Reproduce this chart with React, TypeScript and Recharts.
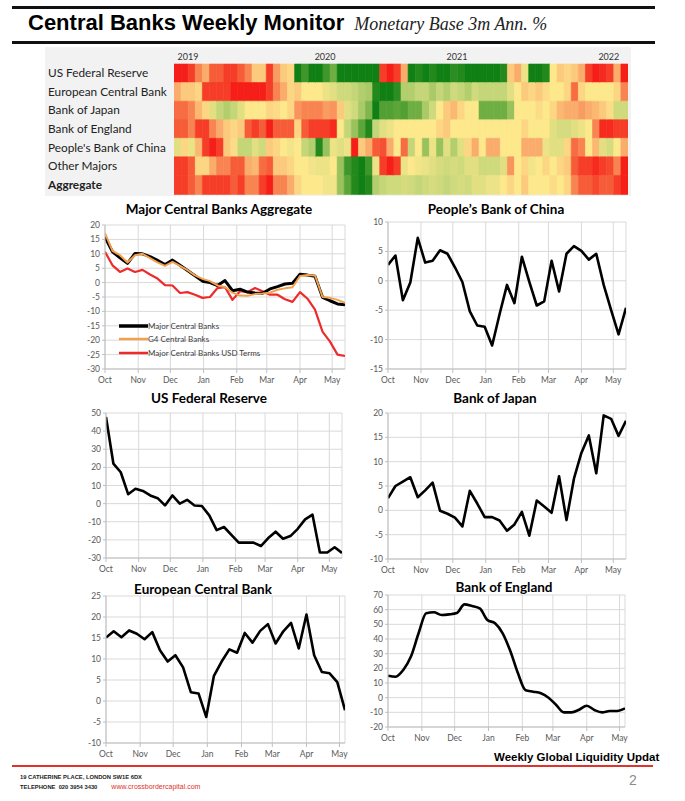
import React from 'react';
import { LineChart, Line, XAxis, YAxis, CartesianGrid, BarChart, Bar, Cell, Legend } from 'recharts';

// ---------- Heatmap data (score -3 = deep red ... +3 = deep green) ----------
const HEAT_ROWS = ['US Federal Reserve', 'European Central Bank', 'Bank of Japan', 'Bank of England', "People's Bank of China", 'Other Majors', 'Aggregate'];
const YEAR_LABELS = ['2019', '2020', '2021', '2022'];
const YEAR_POS = [1.97, 21.3, 39.9, 61.3];

const fedHeat = [-3,-3,-2.5,-1.5,-1,-2,-2,-2.5,-2.5,-2,-1.5,-0.5,-0.5,-2.5,-1.2,-0.5,-0.3,3,2.5,3,3,2.5,
  2,3,3,3,3,3,3,-2.5,-3,-2.5,-1,3,2.8,3,2.8,3,3,2.7,2.8,3,3,
  3,3,3,2.8,-0.5,-1,0.3,3,3,2.8,0,-0.5,-0.3,-0.5,-1,-2.5,-3,-2.8,-2.5,-1,-3];
const ecbHeat = [-1,-0.5,-0.5,-0.3,-2.5,-2.5,-2.5,-2.5,-3,-3,-3,-3,-3,-2.5,-1.5,-1,-0.3,-0.5,0,0,0,0.3,
  0.5,0.8,0.8,1,1.2,1.3,2.8,3,3,2.7,1.2,1.2,1,1,1.3,1,1.2,0.8,1,1.2,0.8,
  1,1,1,1,0.5,0,-0.5,-0.3,-0.5,-0.2,0,0,-0.3,-1.8,-0.3,0,0,0,0,-0.3,-1.5];
const bojHeat = [-1.8,-1.8,-1.5,-0.8,-0.3,0.5,1,1.2,1,0.5,0,0,0,-0.3,-0.2,0,-0.3,-1.3,-1.5,-1.5,-1.5,-1.2,
  -1.3,-0.5,0.5,0.8,1.3,1.8,3,2.3,2.3,2.2,2.3,2,2,1.3,0.8,0,-0.5,-0.8,-0.3,0,0,
  2,2,2,2,1.5,0,0,0,-0.2,0,-0.3,-0.8,-1,-1,-1.2,-1,-0.8,-0.5,-0.2,0.8,0.8];
const boeHeat = [-2,-2,-1.5,-2.5,-2.5,-1.5,-1,-0.5,-0.3,-0.5,-2,-2.5,-2,-3,-2,-2,-2,-0.3,-2,-2.5,-2.5,-2.5,
  -2.8,0,1,1.5,2.2,2.8,1,0.5,0.3,0,0,0,0,0,0,-0.3,-0.5,0,0,0,0,
  0,0,0,0,0,0,-0.3,0,0,0,0.5,0.7,0.7,0.5,0.3,0,-1.5,-2.8,-2.8,-2.5,-2.5];
const pbocHeat = [0.5,-0.3,0.3,-0.8,-2.5,-3,-2.5,-0.5,-0.2,1,1,0.5,0.8,-0.5,-0.3,0,0.2,0,1,1.2,2.8,1.5,
  0.3,0.5,0.3,-3,-0.5,-1,-2,-2.2,-1,0,-1.8,1,0,1.5,0.3,1.5,0.5,1.2,0.5,-0.3,-1,
  0,-1,-1,0,0,0,-1,-1,-1,0.3,0.5,0.5,-0.3,-1.8,-1.5,0,-0.8,0.5,0.7,0,-1];
const otherHeat = [-2.5,-2.5,-2,-0.3,-0.3,-1,-1.5,-1.5,-2,-2,-1,-0.8,-1.8,-2,-0.5,-0.5,-0.3,0,0,0.2,0.3,0.3,
  0,1.5,2.5,2.8,3,2.5,0.3,-2.5,-3,-2.5,0.3,0,0.2,0.3,0.5,0.7,0.8,0.7,0.8,0.5,0.5,
  0.8,0.8,0.8,0.5,-1.3,0,-0.3,0.2,0,-0.3,0,-0.3,-0.5,-2,-2.5,-2.5,-2.8,-2.5,-2.3,-1.5,-3];
const aggHeat = [-2.5,-2.5,-2,-1.5,-2.5,-2.5,-2.5,-2.5,-2,-2.5,-1.5,-1.5,-2.5,-3,-1.5,-1.5,-1,-0.3,0,0,0,0.2,
  0.2,1.5,2.2,2.8,3,2.8,1.2,1,0.8,0.8,0.7,0.8,1,0.8,0.7,0.8,1,0.8,0.7,0.8,0.5,
  0.5,0.3,0.3,0,-0.3,0,-0.5,0,0,0,-0.2,0,-0.3,-1.5,-2,-2,-2.3,-2,-2,-2.5,-3];

// ---------- Line chart data (weekly, Oct -> May) ----------
const MONTH_TICKS = [0, 31, 61, 92, 123, 151, 182, 212];
const MONTH_LABELS = ['Oct', 'Nov', 'Dec', 'Jan', 'Feb', 'Mar', 'Apr', 'May'];

const aggMajor = [15.8,10.7,8.6,6.7,10.1,10,9,7.7,6.3,7.8,6,4.2,2.4,0.5,0,-1,0.7,-2.8,-2.3,-3.3,-3.6,-3.7,-2.2,-1.4,-0.5,-0.2,2.9,2.6,2.2,-5.1,-6.3,-7.4,-7.7];
const aggG4 = [17.2,11,9.5,7,9.5,10,8.5,7,5.8,7.2,5.8,4.3,2.5,1.3,0.5,-1,-1.5,-3.5,-4.5,-4.6,-4,-3.8,-3.5,-2.5,-2,-1.6,2.3,2.6,2.5,-5,-5.3,-6,-7];
const aggUsd = [10.7,6,3.7,4.9,3.7,4.4,2.8,1.4,-0.9,-1,-3.6,-3.3,-4.2,-5.3,-5,-1.9,-1.6,-6,-3,-3.3,-1.9,-3,-4.2,-4.2,-5.8,-6.7,-3.3,-5.6,-9.4,-17,-20.5,-25,-25.5];
const pboc = [2.7,4.3,-3.3,-0.3,7.3,3.1,3.4,5.2,4.6,2.3,-0.2,-5.2,-7.6,-7.8,-11,-5.7,-0.7,-3.8,4.1,-0.2,-4.2,-3.5,3.4,-1.8,4.6,5.9,5.1,3.6,4.6,-0.7,-5,-9.1,-4.6];
const fed = [47.8,22.1,17.3,5.2,8.2,7,4.5,3,-1,4.5,0,2.1,-1,-1.3,-6.5,-14.6,-12.9,-17.2,-21.5,-21.5,-21.5,-23.4,-19,-15.5,-19.4,-17.9,-13.9,-8.7,-6.1,-27,-27,-24.1,-27.2];
const boj = [2.5,5,5.9,6.8,2.7,4.1,5.7,-0.1,-0.7,-1.5,-3.3,4,1.4,-1.4,-1.4,-2.1,-4.2,-2.9,-0.3,-5.2,2,0.8,-0.5,7,-2,6.5,11.8,15.4,7.6,19.5,18.8,15.3,18.4];
const ecb = [15.1,16.6,15.2,16.8,16,14.7,16.4,12.1,9.4,10.9,8,2.1,1.8,-3.8,6,9.4,12.3,11.5,16.2,13.9,16.7,18.3,13.7,16.6,18.6,12.5,20.6,10.9,6.9,6.6,4.5,-2.2];
const boe = [15,14.3,18.9,28,43.9,57.5,58.2,56.4,56.8,57.7,63.6,62.5,60.9,53,50.7,43.9,31.8,16.6,5,4.1,3,0,-5,-10,-10,-8.2,-5.5,-8.4,-10,-9.1,-9.1,-7.3];

// ---------- helpers ----------
const heatRowsValues = [fedHeat, ecbHeat, bojHeat, boeHeat, pbocHeat, otherHeat, aggHeat];
const NCOL = fedHeat.length;
const heatData = HEAT_ROWS.map((name) => {
  const o: any = { name };
  for (let k = 0; k < NCOL; k++) o['c' + k] = 1;
  return o;
});

const STOPS: [number, number[]][] = [
  [-3, [246, 30, 24]],
  [-2, [246, 92, 56]],
  [-1, [250, 172, 108]],
  [0, [253, 232, 140]],
  [1, [196, 214, 120]],
  [2, [110, 174, 66]],
  [3, [16, 128, 20]],
];
function heatColor(v: number) {
  const x = Math.max(-3, Math.min(3, v));
  for (let i = 0; i < STOPS.length - 1; i++) {
    const [a, ca] = STOPS[i];
    const [b, cb] = STOPS[i + 1];
    if (x >= a && x <= b) {
      const t = (x - a) / (b - a);
      const c = ca.map((cv, j) => Math.round(cv + (cb[j] - cv) * t));
      return `rgb(${c[0]},${c[1]},${c[2]})`;
    }
  }
  return 'rgb(253,232,140)';
}

const weekly = (arr: number[], key = 'v') => arr.map((v, i) => ({ d: i * 7, [key]: v }));
const aggData = aggMajor.map((v, i) => ({ d: i * 7, major: v, g4: aggG4[i], usd: aggUsd[i] }));

const FONT = 'Lato, "Open Sans", sans-serif';
const tickStyle = { fontSize: 8.5, fill: '#595959', fontFamily: FONT };

type Series = { key: string; color: string; width: number; name?: string };

function MiniChart(props: {
  x0: number; y0: number; x1: number; y1: number; dMax: number; data: any[]; series: Series[];
  yDomain: [number, number]; yTicks: number[]; title: string; titleX: number; titleY: number;
  curve?: 'linear' | 'monotone'; legend?: React.ReactNode;
}) {
  const { x0, y0, x1, y1, dMax, data, series, yDomain, yTicks, title, titleX, titleY } = props;
  const W = (x1 - x0) + 40 + 8;
  const H = (y1 - y0) + 8 + 22;
  return (
    <>
      <div style={{ position: 'absolute', left: titleX, top: titleY, transform: 'translate(-50%,-50%)', whiteSpace: 'nowrap', fontFamily: FONT, fontWeight: 700, fontSize: 13.5, color: '#000' }}>{title}</div>
      <div style={{ position: 'absolute', left: x0 - 40, top: y0 - 8 }}>
        <LineChart width={W} height={H} data={data} margin={{ top: 8, right: 8, left: 4, bottom: 2 }}>
          <CartesianGrid stroke="#d9d9d9" strokeWidth={1} />
          <XAxis type="number" dataKey="d" domain={[0, dMax]} ticks={MONTH_TICKS} interval={0} allowDataOverflow
            tickFormatter={(v: number) => MONTH_LABELS[MONTH_TICKS.indexOf(v)]}
            height={20} tick={tickStyle} tickSize={4} tickMargin={4} stroke="#bfbfbf" />
          <YAxis type="number" domain={yDomain} ticks={yTicks} interval={0} allowDataOverflow width={36}
            tick={tickStyle} tickSize={3} tickMargin={2} stroke="#bfbfbf" />
          {series.map((s) => (
            <Line key={s.key} dataKey={s.key} name={s.name} type={props.curve || 'linear'} stroke={s.color} strokeWidth={s.width}
              dot={false} activeDot={false} isAnimationActive={false} strokeLinejoin="round" />
          ))}
          {props.legend}
        </LineChart>
      </div>
    </>
  );
}

const aggSeries: Series[] = [
  { key: 'usd', color: '#ee2b2b', width: 2.2, name: 'Major Central Banks USD Terms' },
  { key: 'major', color: '#000000', width: 3, name: 'Major Central Banks' },
  { key: 'g4', color: '#f2a04e', width: 2, name: 'G4 Central Banks' },
];
const legendOrder = [aggSeries[1], aggSeries[2], aggSeries[0]];

const AggLegend = () => (
  <div style={{ fontFamily: FONT, fontSize: 8, color: '#404040' }}>
    {legendOrder.map((s) => (
      <div key={s.key} style={{ display: 'flex', alignItems: 'center', height: 13.5 }}>
        <svg width={29} height={6} style={{ display: 'block' }}>
          <line x1={0} y1={3} x2={29} y2={3} stroke={s.color} strokeWidth={s.key === 'major' ? 3.5 : 2.5} />
        </svg>
        <span style={{ marginLeft: 0, whiteSpace: 'nowrap' }}>{s.name}</span>
      </div>
    ))}
  </div>
);

const YearTick = (p: any) => (
  <text x={p.x} y={13} textAnchor="middle" fontSize={9} fontFamily={FONT} fill="#333">{YEAR_LABELS[YEAR_POS.indexOf(p.payload.value)]}</text>
);
const RowTick = (p: any) => (
  <text x={3} y={p.y} dy={4} textAnchor="start" fontSize={11.8} fontFamily={FONT} fill="#222"
    fontWeight={p.payload.value === 'Aggregate' ? 700 : 400}>{p.payload.value}</text>
);

export default function App() {
  return (
    <div style={{ position: 'absolute', left: 0, top: 0, width: 685, height: 801, background: '#fff', overflow: 'hidden' }}>
      {/* header */}
      <div style={{ position: 'absolute', left: 12, top: 6, width: 643, height: 3, background: '#111' }} />
      <div style={{ position: 'absolute', left: 28, top: 12, whiteSpace: 'nowrap', lineHeight: '22px' }}>
        <span style={{ fontFamily: '"Liberation Sans", Arial, sans-serif', fontWeight: 700, fontSize: 22, color: '#000' }}>Central Banks Weekly Monitor</span>
        <span style={{ fontFamily: '"Liberation Serif", serif', fontStyle: 'italic', fontSize: 18, color: '#222', marginLeft: 10 }}>Monetary Base 3m Ann. %</span>
      </div>
      <div style={{ position: 'absolute', left: 12, top: 41, width: 643, height: 3, background: '#111' }} />

      {/* heatmap */}
      <div style={{ position: 'absolute', left: 45, top: 47, width: 586, height: 149, background: '#f2f2f2' }} />
      <div style={{ position: 'absolute', left: 45, top: 47 }}>
        <BarChart layout="vertical" width={585} height={150} data={heatData} margin={{ top: 0, right: 2, bottom: 3, left: 0 }} barCategoryGap={0} barGap={0}>
          <XAxis type="number" orientation="top" domain={[0, NCOL]} ticks={YEAR_POS} interval={0} allowDataOverflow height={17}
            axisLine={false} tickLine={false} tick={<YearTick />} />
          <YAxis type="category" dataKey="name" width={129} axisLine={false} tickLine={false} tick={<RowTick />} interval={0} />
          {Array.from({ length: NCOL }, (_, k) => (
            <Bar key={k} dataKey={'c' + k} stackId="h" isAnimationActive={false}>
              {heatRowsValues.map((row, r) => (
                <Cell key={r} fill={heatColor(row[k])} stroke={heatColor(row[k])} strokeWidth={0.6} />
              ))}
            </Bar>
          ))}
        </BarChart>
      </div>

      {/* charts */}
      <MiniChart x0={105} y0={225} x1={345} y1={369} dMax={224} data={aggData} series={aggSeries}
        yDomain={[-30, 20]} yTicks={[20, 15, 10, 5, 0, -5, -10, -15, -20, -25, -30]}
        title="Major Central Banks Aggregate" titleX={219} titleY={209}
        legend={<Legend layout="vertical" align="center" verticalAlign="middle" content={<AggLegend />}
          wrapperStyle={{ left: 54, top: 102, width: 170 }} />} />
      <MiniChart x0={388} y0={222} x1={626} y1={369} dMax={224} data={weekly(pboc)} series={[{ key: 'v', color: '#000', width: 2.6 }]}
        yDomain={[-15, 10]} yTicks={[10, 5, 0, -5, -10, -15]}
        title="People’s Bank of China" titleX={496} titleY={209} />
      <MiniChart x0={106} y0={413} x1={342} y1={558} dMax={224} data={weekly(fed)} series={[{ key: 'v', color: '#000', width: 2.6 }]}
        yDomain={[-30, 50]} yTicks={[50, 40, 30, 20, 10, 0, -10, -20, -30]}
        title="US Federal Reserve" titleX={209} titleY={398} />
      <MiniChart x0={388} y0={413} x1={626} y1={559} dMax={224} data={weekly(boj)} series={[{ key: 'v', color: '#000', width: 2.6 }]}
        yDomain={[-10, 20]} yTicks={[20, 15, 10, 5, 0, -5, -10]}
        title="Bank of Japan" titleX={495} titleY={398} />
      <MiniChart x0={106} y0={596} x1={345} y1={743} dMax={217} data={weekly(ecb)} series={[{ key: 'v', color: '#000', width: 2.6 }]}
        yDomain={[-10, 25]} yTicks={[25, 20, 15, 10, 5, 0, -5, -10]}
        title="European Central Bank" titleX={203} titleY={589} />
      <MiniChart x0={388} y0={595} x1={625} y1={727} dMax={217} data={weekly(boe)} series={[{ key: 'v', color: '#000', width: 2.6 }]}
        yDomain={[-20, 70]} yTicks={[70, 60, 50, 40, 30, 20, 10, 0, -10, -20]} curve="monotone"
        title="Bank of England" titleX={504} titleY={587} />

      {/* footer */}
      <div style={{ position: 'absolute', left: 494, top: 751, whiteSpace: 'nowrap', fontFamily: '"Liberation Sans", Arial, sans-serif', fontWeight: 700, fontSize: 11.5, lineHeight: '13px', color: '#000' }}>Weekly Global Liquidity Updat</div>
      <div style={{ position: 'absolute', left: 12, top: 765, width: 641, height: 2, background: '#e0332c' }} />
      <div style={{ position: 'absolute', left: 20, top: 773, whiteSpace: 'nowrap', fontFamily: '"Liberation Sans", Arial, sans-serif', fontWeight: 700, fontSize: 5.8, lineHeight: '8px', color: '#222' }}>19 CATHERINE PLACE, LONDON SW1E 6DX</div>
      <div style={{ position: 'absolute', left: 20, top: 783, whiteSpace: 'nowrap', fontFamily: '"Liberation Sans", Arial, sans-serif', fontSize: 5.8, lineHeight: '8px', color: '#222' }}>
        <span style={{ fontWeight: 700 }}>TELEPHONE&nbsp;&nbsp;020 3954 3430</span>
        <span style={{ color: '#e0332c', fontSize: 7, marginLeft: 14 }}>www.crossbordercapital.com</span>
      </div>
      <div style={{ position: 'absolute', left: 629, top: 772, fontFamily: '"Liberation Sans", Arial, sans-serif', fontSize: 14, lineHeight: '16px', color: '#8a8a8a' }}>2</div>
    </div>
  );
}
